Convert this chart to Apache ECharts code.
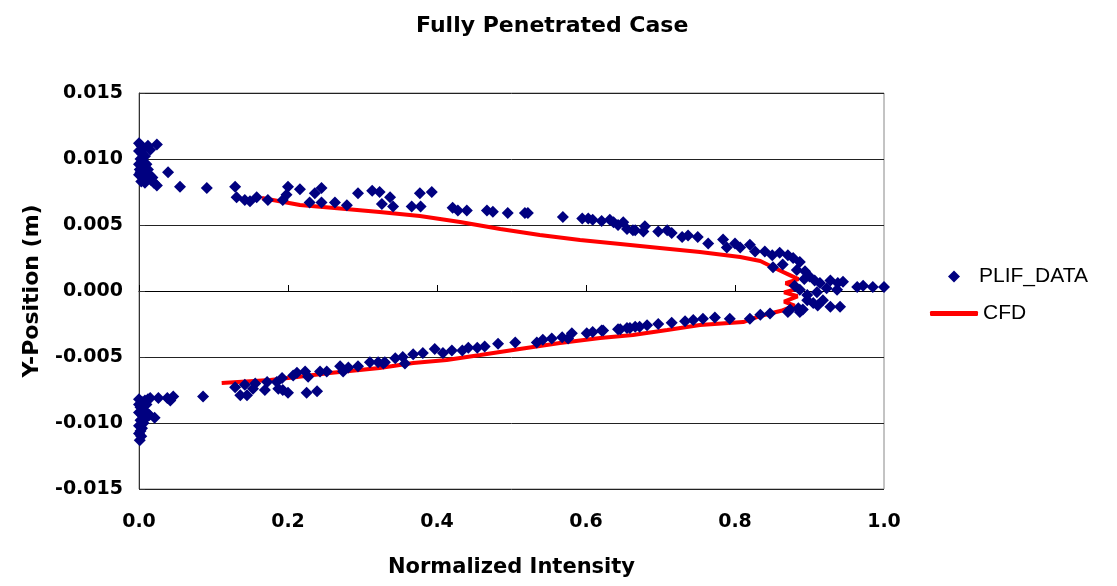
<!DOCTYPE html>
<html>
<head>
<meta charset="utf-8">
<script src="https://cdn.jsdelivr.net/npm/echarts@6/dist/echarts.min.js"></script>
<style>html,body{margin:0;padding:0;background:#fff;}#c{width:1117px;height:586px;}</style>
</head>
<body>
<div id="c"></div>
<script>
// PLIF measured points (x = normalized intensity, y = position in m)
const plifX = [
  0.000,0.003,0.006,0.000,0.004,0.008,0.002,0.006,0.000,0.010,0.004,0.012,0.002,0.008,0.014,0.000,0.005,0.010,0.016,0.020,0.003,0.024,0.008,0.012,0.024,0.015,0.001,0.018,
  0.039,0.055,0.091,0.129,0.131,0.142,0.149,0.158,0.173,0.193,0.200,0.198,0.216,0.229,0.236,0.245,0.245,0.263,0.279,0.294,0.313,0.323,0.326,0.337,
  0.341,0.366,0.377,0.378,0.393,0.421,0.428,0.440,0.467,0.475,0.495,0.518,0.522,0.569,0.595,0.603,0.609,0.621,0.632,0.637,0.643,0.650,0.655,0.666,
  0.663,0.677,0.679,0.697,0.709,0.715,0.729,0.737,0.750,0.764,0.784,0.789,0.800,0.807,0.820,0.827,0.840,0.850,0.860,0.871,0.878,0.887,
  0.851,0.864,0.883,0.894,0.900,0.907,0.914,0.928,0.938,0.945,0.964,0.972,0.985,1.000,
  0.887,0.897,0.910,0.918,0.905,0.897,0.891,0.911,0.928,0.941,0.923,0.937,0.885,0.874,0.880,0.893,
  0.871,0.887,0.847,0.834,0.820,0.793,0.773,0.757,0.744,0.733,0.715,0.697,0.682,0.672,0.659,0.646,0.623,
  0.666,0.655,0.643,0.621,0.609,0.601,0.581,0.576,0.568,0.554,0.542,0.534,0.505,0.482,0.464,0.454,0.442,0.434,0.420,0.408,0.397,0.381,0.368,0.354,0.357,0.344,0.328,
  0.330,0.321,0.310,0.294,0.281,0.274,0.270,0.252,0.243,0.227,0.223,0.212,0.207,0.192,0.185,0.172,0.156,0.142,0.129,0.136,0.145,0.153,0.169,0.193,0.200,0.225,0.239,0.187,
  0.086,0.046,0.042,0.038,0.026,0.015,0.021,
  0.000,0.004,0.008,0.012,0.002,0.006,0.000,0.004,0.010,0.014,0.002,0.006,0.000,0.004,0.002,0.000,0.003,0.001,0.008,0.000,0.010
];
const plifY = [
  0.0112,0.0110,0.0108,0.0106,0.0104,0.0102,0.0100,0.0098,0.0096,0.0096,0.0094,0.0092,0.0090,0.0090,0.0088,0.0088,0.0086,0.0085,0.0084,0.0082,0.0083,0.0080,0.0082,0.0110,0.0111,0.0107,0.0092,0.0086,
  0.0090,0.0079,0.0078,0.0079,0.0071,0.0069,0.0068,0.0071,0.0069,0.0069,0.0079,0.0073,0.0077,0.0067,0.0074,0.0078,0.0067,0.0067,0.0065,0.0074,0.0076,0.0075,0.0066,0.0071,
  0.0064,0.0064,0.0074,0.0064,0.0075,0.0063,0.0061,0.0061,0.0061,0.0060,0.0059,0.0059,0.0059,0.0056,0.0055,0.0055,0.0054,0.0053,0.0054,0.0052,0.0050,0.0052,0.0047,0.0046,
  0.0046,0.0045,0.0049,0.0045,0.0046,0.0044,0.0041,0.0042,0.0041,0.0036,0.0039,0.0033,0.0036,0.0033,0.0035,0.0030,0.0030,0.0027,0.0029,0.0027,0.0025,0.0022,
  0.0018,0.0020,0.0016,0.0015,0.0011,0.0008,0.0006,0.0008,0.0006,0.0007,0.0003,0.0004,0.0003,0.0003,
  0.0001,-0.0003,-0.0001,-0.0007,-0.0009,-0.0007,-0.0014,-0.0011,-0.0012,-0.0012,0.0002,0.0001,-0.0013,-0.0014,0.0004,0.0009,
  -0.0016,-0.0016,-0.0017,-0.0018,-0.0021,-0.0021,-0.0020,-0.0021,-0.0022,-0.0023,-0.0024,-0.0025,-0.0026,-0.0027,-0.0028,-0.0029,-0.0030,
  -0.0027,-0.0028,-0.0029,-0.0030,-0.0031,-0.0032,-0.0032,-0.0036,-0.0035,-0.0036,-0.0037,-0.0039,-0.0039,-0.0040,-0.0042,-0.0043,-0.0043,-0.0045,-0.0045,-0.0047,-0.0044,-0.0047,-0.0048,-0.0050,-0.0055,-0.0051,-0.0055,
  -0.0054,-0.0054,-0.0054,-0.0057,-0.0058,-0.0061,-0.0057,-0.0061,-0.0061,-0.0065,-0.0061,-0.0062,-0.0064,-0.0066,-0.0069,-0.0069,-0.0070,-0.0071,-0.0073,-0.0079,-0.0079,-0.0074,-0.0075,-0.0075,-0.0077,-0.0077,-0.0076,-0.0074,
  -0.0080,-0.0080,-0.0083,-0.0081,-0.0081,-0.0081,-0.0096,
  -0.0082,-0.0084,-0.0083,-0.0082,-0.0088,-0.0090,-0.0092,-0.0094,-0.0092,-0.0094,-0.0098,-0.0100,-0.0102,-0.0104,-0.0106,-0.0108,-0.0110,-0.0113,-0.0097,-0.0086,-0.0086
];
// CFD profile
const cfdX = [0.165,0.216,0.270,0.323,0.377,0.431,0.485,0.538,0.592,0.646,0.699,0.753,0.807,0.834,0.851,
  0.870,0.885,0.868,0.885,0.866,0.884,0.866,0.880,0.862,
  0.834,0.811,0.753,0.709,0.663,0.619,0.565,0.511,0.458,0.413,0.368,0.323,0.256,0.212,0.176,0.111];
const cfdY = [0.00705,0.00652,0.00625,0.00598,0.00568,0.00523,0.00470,0.00424,0.00386,0.00356,0.00326,0.00295,0.00258,0.00227,0.00180,
  0.00130,0.00090,0.00060,0.00020,-0.00010,-0.00040,-0.00080,-0.00110,-0.00150,
  -0.00189,-0.00235,-0.00258,-0.00295,-0.00333,-0.00356,-0.00394,-0.00439,-0.00485,-0.00523,-0.00545,-0.00583,-0.00621,-0.00652,-0.00674,-0.00697];
const titleText = 'Fully Penetrated Case';
const xName = 'Normalized Intensity';
const yName = 'Y-Position (m)';
const seriesNames = ['PLIF_DATA', 'CFD'];

const FONT = '"DejaVu Sans", "Liberation Sans", Arial, sans-serif';
const LFONT = '"Liberation Sans", Arial, sans-serif';
const chart = echarts.init(document.getElementById('c'));
chart.setOption({
  animation: false,
  backgroundColor: '#fff',
  title: {text: titleText, left: 411, top: 10,
    textStyle: {fontFamily: FONT, fontWeight: 'bold', fontSize: 22, color: '#000'}},
  legend: [{
    orient: 'vertical', left: 943, top: 261, itemWidth: 12, itemHeight: 12,
    textStyle: {fontFamily: LFONT, fontSize: 21, color: '#000', padding: [0, 0, 0, 14]},
    data: [{name: seriesNames[0], icon: 'diamond'}]
  }, {
    orient: 'vertical', left: 925, top: 298, itemWidth: 48, itemHeight: 5,
    textStyle: {fontFamily: LFONT, fontSize: 21, color: '#000'},
    data: [{name: seriesNames[1], icon: 'roundRect'}]
  }],
  grid: {left: 139, top: 93, width: 745, height: 396, show: true, borderColor: '#888', borderWidth: 1, containLabel: false},
  xAxis: [{
    type: 'value', min: 0, max: 1, interval: 0.2, position: 'bottom',
    name: xName, nameLocation: 'middle', nameGap: 68,
    nameTextStyle: {fontFamily: FONT, fontWeight: 'bold', fontSize: 21, color: '#000'},
    axisLine: {show: false, onZero: false},
    axisTick: {show: false},
    splitLine: {show: false},
    axisLabel: {fontFamily: FONT, fontWeight: 'bold', fontSize: 19, color: '#000', margin: 24,
      formatter: v => v.toFixed(1)}
  }, {
    type: 'value', min: 0, max: 1, interval: 0.2, position: 'bottom',
    axisLine: {show: true, onZero: true, lineStyle: {color: '#000', width: 1}},
    axisTick: {show: true, inside: true, length: 6, lineStyle: {color: '#000'}},
    axisLabel: {show: false},
    splitLine: {show: false}
  }],
  yAxis: {
    type: 'value', min: -0.015, max: 0.015, interval: 0.005,
    name: yName, nameLocation: 'middle', nameGap: 96, nameRotate: 90,
    nameTextStyle: {fontFamily: FONT, fontWeight: 'bold', fontSize: 22, color: '#000'},
    axisLine: {show: true, lineStyle: {color: '#333'}},
    axisTick: {show: true, inside: true, length: 6, lineStyle: {color: '#333'}},
    splitLine: {show: true, lineStyle: {color: '#222', width: 1}},
    axisLabel: {fontFamily: FONT, fontWeight: 'bold', fontSize: 19, color: '#000', margin: 16,
      formatter: v => v.toFixed(3)}
  },
  series: [{
    name: seriesNames[0], type: 'scatter', symbol: 'diamond', symbolSize: 12,
    itemStyle: {color: '#000080', opacity: 1},
    data: plifX.map((x, i) => [x, plifY[i]]), z: 3
  }, {
    name: seriesNames[1], type: 'line', symbol: 'none', showSymbol: false,
    lineStyle: {color: '#ff0000', width: 4}, itemStyle: {color: '#ff0000'},
    data: cfdX.map((x, i) => [x, cfdY[i]]), z: 2
  }]
});
</script>
</body>
</html>
